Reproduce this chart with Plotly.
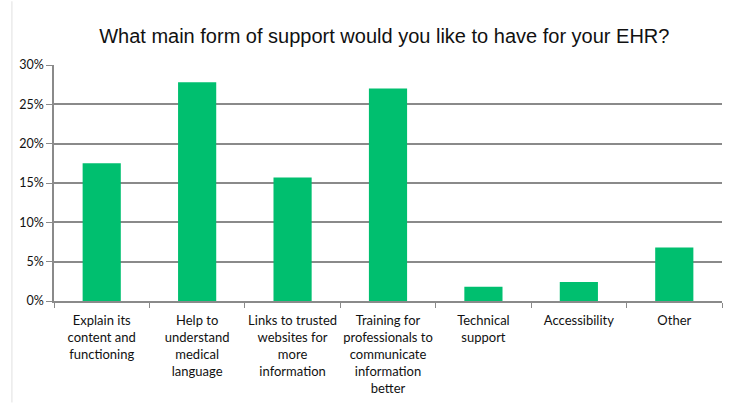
import plotly.graph_objects as go

# Survey responses: preferred form of EHR support
categories = [
    "Explain its<br>content and<br>functioning",
    "Help to<br>understand<br>medical<br>language",
    "Links to trusted<br>websites for<br>more<br>information",
    "Training for<br>professionals to<br>communicate<br>information<br>better",
    "Technical<br>support",
    "Accessibility",
    "Other",
]
shares = [0.175, 0.278, 0.157, 0.270, 0.018, 0.024, 0.068]

y_ticks = [0, 0.05, 0.10, 0.15, 0.20, 0.25, 0.30]
y_tick_labels = ["0%", "5%", "10%", "15%", "20%", "25%", "30%"]

fig = go.Figure(
    go.Bar(
        x=categories,
        y=shares,
        marker=dict(color="#00bf6f", line=dict(width=0)),
        hoverinfo="skip",
    )
)

axis_grey = "#8a8a8a"

fig.update_layout(
    width=732,
    height=403,
    margin=dict(l=54, r=10, t=65, b=102),
    paper_bgcolor="white",
    plot_bgcolor="white",
    bargap=0.6,
    showlegend=False,
    title=dict(
        text="What main form of support would you like to have for your EHR?",
        x=0.525,
        xanchor="center",
        y=0.91,
        yanchor="middle",
        font=dict(family="Liberation Sans, Arial, sans-serif", size=20, color="#111111"),
    ),
    font=dict(family="Lato, Carlito, Calibri, sans-serif", size=13, color="#111111"),
    xaxis=dict(
        type="category",
        automargin=False,
        tickangle=0,
        showgrid=False,
        showline=True,
        linecolor=axis_grey,
        linewidth=1.5,
        ticks="outside",
        tickson="boundaries",
        ticklen=5,
        tickcolor=axis_grey,
        tickwidth=1,
        tickfont=dict(size=13),
        ticklabelstandoff=7,
        fixedrange=True,
    ),
    yaxis=dict(
        range=[0, 0.30],
        automargin=False,
        tickvals=y_ticks,
        ticktext=y_tick_labels,
        showgrid=True,
        gridcolor=axis_grey,
        gridwidth=1.5,
        showline=True,
        linecolor=axis_grey,
        linewidth=1.5,
        ticks="outside",
        ticklen=6,
        tickcolor=axis_grey,
        tickwidth=1,
        tickfont=dict(size=12.5),
        zeroline=False,
        fixedrange=True,
    ),
    shapes=[
        dict(
            type="line", xref="paper", yref="paper",
            x0=-0.063, x1=-0.063, y0=-0.43, y1=1.27,
            line=dict(color="#e0e0e0", width=1),
        )
    ],
)

fig.write_html("out.html")
